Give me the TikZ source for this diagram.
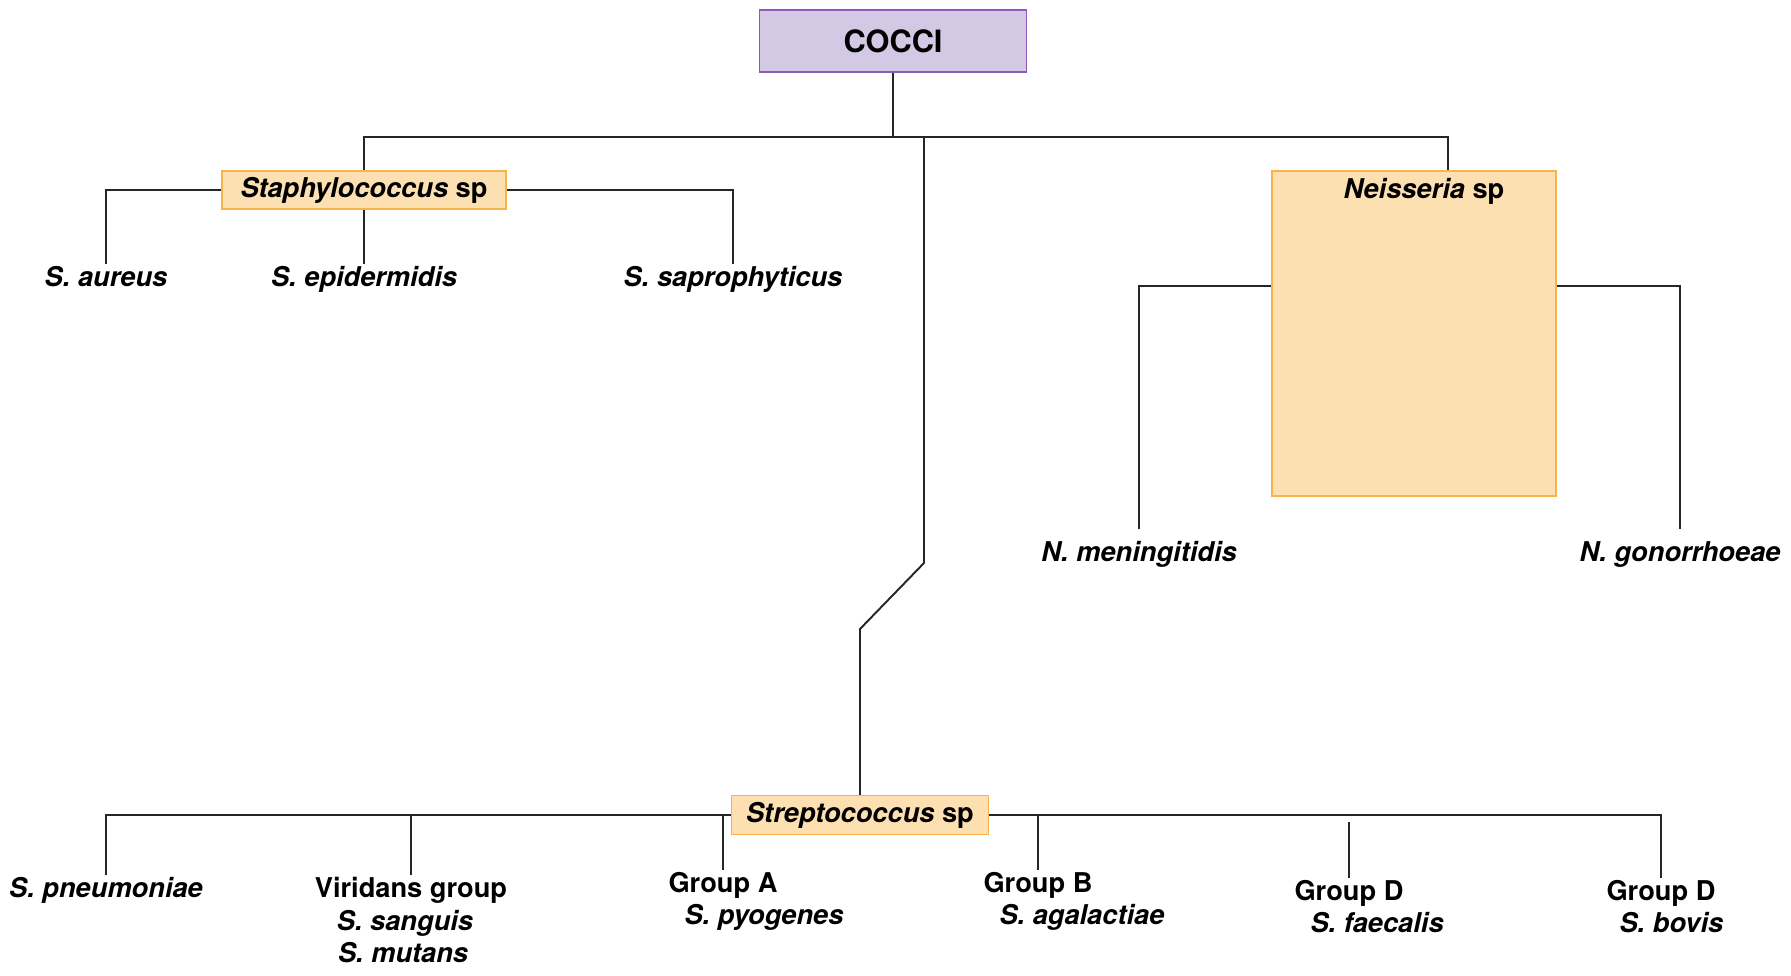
\documentclass[tikz,border=0pt]{standalone}
\usepackage{fontspec}
\setmainfont{TeX Gyre Heros}
\usepackage{xcolor}
\usepackage{tikz}
\usetikzlibrary{positioning}
\definecolor{lilac}{HTML}{D4C9E4}
\definecolor{lilacedge}{HTML}{8E5CB5}
\definecolor{peach}{HTML}{FDE0B1}
\definecolor{peachedge}{HTML}{F8B34A}
\tikzstyle{box}    = [rectangle, inner sep=0pt, line width=0.7pt,
                      font=\fontsize{15.5}{18}\selectfont\bfseries]
\tikzstyle{topbox} = [box, fill=lilac, draw=lilacedge, minimum width=5.34cm,
                      minimum height=1.24cm,
                      font=\fontsize{17.5}{20}\selectfont\bfseries]
\tikzstyle{genbox} = [box, fill=peach, draw=peachedge]
\tikzstyle{leaf}   = [inner sep=0pt, outer ysep=1.8pt, text height=11.2pt,
                      text depth=3.4pt,
                      font=\fontsize{15.5}{18}\selectfont\bfseries]
\tikzstyle{link}   = [line width=1.1pt, black!85]

\begin{document}
\begin{tikzpicture}[x=0.02cm, y=-0.02cm, node distance=0.3pt and 0.32cm]
  \useasboundingbox (0,0) rectangle (1791,976);

  \node[topbox] (cocci) at (893,41) {COCCI};

  % genera
  \node[genbox, minimum width=5.68cm, minimum height=0.76cm] (staph)
    at (364,190) {\textit{Staphylococcus} sp};
  \node[genbox, minimum width=5.68cm, minimum height=6.5cm] (neis)
    at (1414,333.5) {};
  \node[box] (neislbl) at (1424,191) {\textit{Neisseria} sp};
  \node[genbox, minimum width=5.14cm, minimum height=0.78cm] (strep)
    at (860,815) {\textit{Streptococcus} sp};

  % staphylococci
  \node[leaf] (aureus) at (106,280) {\textit{S. aureus}};
  \node[leaf] (epid)   at (364,280) {\textit{S. epidermidis}};
  \node[leaf] (sapro)  at (733,280) {\textit{S. saprophyticus}};

  % neisseriae
  \node[leaf, outer ysep=7.5pt] (nmen) at (1139,555) {\textit{N. meningitidis}};
  \node[leaf, outer ysep=7.5pt] (ngon) at (1680,555) {\textit{N. gonorrhoeae}};

  % streptococci
  \node[leaf] (pneu)  at (106,891) {\textit{S. pneumoniae}};
  \node[leaf] (virid) at (411,891) {Viridans group};
  \node[leaf, below=of virid, xshift=-0.12cm] (sang) {\textit{S. sanguis}};
  \node[leaf, below=of sang, xshift=-0.04cm] (mutans) {\textit{S. mutans}};
  \node[leaf] (grpA) at (723,886) {Group A};
  \node[leaf, below right=0pt and 0.32cm of grpA.south west] (pyog)
    {\textit{S. pyogenes}};
  \node[leaf] (grpB) at (1038,886) {Group B};
  \node[leaf, below right=0pt and 0.32cm of grpB.south west] (agal)
    {\textit{S. agalactiae}};
  \node[leaf] (grpDa) at (1349,894) {Group D};
  \node[leaf, below right=0pt and 0.32cm of grpDa.south west] (faec)
    {\textit{S. faecalis}};
  \node[leaf] (grpDb) at (1661,894) {Group D};
  \node[leaf, below right=0pt and 0.26cm of grpDb.south west] (bovis)
    {\textit{S. bovis}};

  \coordinate (hub)  at (893,137);
  \coordinate (nhub) at (1448,137);
  \coordinate (shub) at (924,137);
  \coordinate (nbar) at (1414,286);

  \draw[link] (cocci) -- (hub);
  \draw[link] (hub) -| (staph.north);
  \draw[link] (hub) -- (nhub) -- (nhub |- neis.north);
  \draw[link] (shub) -- ++(0,426) -- ++(-64,66) -- (strep.north);

  \draw[link] (staph.west) -| (aureus.north);
  \draw[link] (staph.south) -- (epid.north);
  \draw[link] (staph.east) -| (sapro.north);

  \draw[link] (neis.west |- nbar) -| (nmen.north);
  \draw[link] (neis.east |- nbar) -| (ngon.north);

  \draw[link] (strep.west) -| (pneu.north);
  \draw[link] (strep.east) -| (grpDb.north);
  \draw[link] (virid.north) -- (virid.north |- strep.west);
  \draw[link] (grpA.north) -- (grpA.north |- strep.west);
  \draw[link] (grpB.north) -- (grpB.north |- strep.east);
  % this one stops short of the bar
  \draw[link] (grpDa.north) -- ++(0,-56);
\end{tikzpicture}
\end{document}
